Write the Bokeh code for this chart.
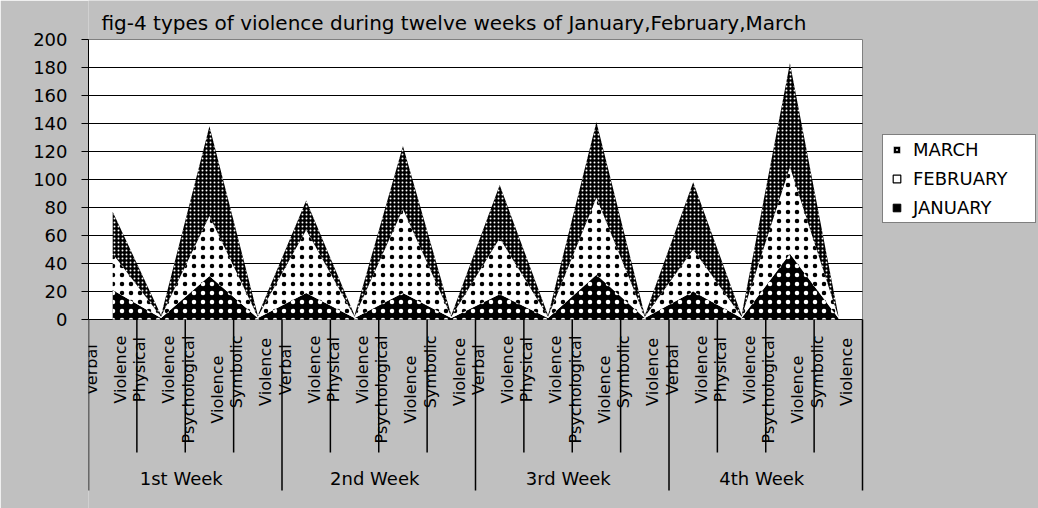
import math
from bokeh.plotting import figure
from bokeh.models import ColumnDataSource, Range1d, FixedTicker, Legend, LegendItem
from bokeh.embed import file_html
from bokeh.resources import INLINE
from bokeh.core.properties import value

# ---------------- data ----------------
weeks = ["1st Week", "2nd Week", "3rd Week", "4th Week"]
violence_types = [("Verbal", "Violence"), ("Physical", "Violence"),
                  ("Psychological", "Violence"), ("Symbolic", "Violence")]
january = [21, 1, 31, 1, 19, 1, 19, 1, 18, 1, 32, 1, 20, 1, 47, 1]
february = [26, 1, 43, 1, 45, 1, 60, 1, 40, 1, 55, 1, 30, 1, 62, 1]
march = [30, 1, 64, 1, 21, 1, 45, 1, 38, 1, 54, 1, 48, 1, 74, 1]
y_ticks = [0, 20, 40, 60, 80, 100, 120, 140, 160, 180, 200]
series_labels = ["JANUARY", "FEBRUARY", "MARCH"]
title_text = "fig-4 types of violence during twelve weeks of January,February,March"

# ---------------- layout constants ----------------
GRAY = "#c0c0c0"
FONT = "DejaVu Sans"
PX_X = 48.375   # pixels per category
PX_Y = 1.4      # pixels per value unit
n_cat = len(january)
y_top = y_ticks[-1]

p = figure(width=1038, height=508, output_backend="svg", toolbar_location=None,
           x_range=Range1d(0, n_cat + 176 / PX_X),
           y_range=Range1d(-189 / PX_Y, y_top + 39 / PX_Y),
           x_axis_location=None,
           min_border_left=88, min_border_right=0, min_border_top=0, min_border_bottom=0)
p.background_fill_color = GRAY
p.border_fill_color = GRAY
p.outline_line_color = None
p.xgrid.visible = False

# white plot area
p.quad(left=[0], right=[n_cat], bottom=[0], top=[y_top], fill_color="white",
       line_color="#808080", line_width=1, level="image")

# horizontal gridlines
p.ygrid.ticker = FixedTicker(ticks=y_ticks[:-1])
p.ygrid.grid_line_color = "black"
p.ygrid.grid_line_width = 1
try:
    p.ygrid.cross_bounds = (0, n_cat)
except Exception:
    pass

# y axis
p.yaxis.ticker = FixedTicker(ticks=y_ticks)
p.yaxis.bounds = (0, y_top)
p.yaxis.axis_line_color = "black"
p.yaxis.major_tick_line_color = "black"
p.yaxis.major_tick_out = 7
p.yaxis.major_tick_in = 0
p.yaxis.minor_tick_line_color = None
p.yaxis.major_label_text_font = FONT
p.yaxis.major_label_text_font_size = "18px"
p.yaxis.major_label_text_color = "black"
p.yaxis.major_label_standoff = 14

# stacked areas
source = ColumnDataSource(dict(x=[i + 0.5 for i in range(n_cat)],
                               january=january, february=february, march=march))
rs = p.varea_stack(stackers=["january", "february", "march"], x="x", source=source,
                   fill_color=["black", "white", "black"],
                   hatch_pattern=[".", ".", "."],
                   hatch_color=["white", "black", "white"],
                   hatch_scale=[9, 9, 4],
                   hatch_weight=[0.5, 0.5, 0.8])

# category tick lines (below the axis)
tick_x = list(range(n_cat + 1))
tick_bottom = [(-171 if k % 4 == 0 else -133) / PX_Y for k in tick_x]
p.segment(x0=tick_x, y0=[0] * len(tick_x), x1=tick_x, y1=tick_bottom,
          line_color="black", line_width=1.5)

# rotated two-line category labels
W = {'V': .684, 'e': .615, 'r': .411, 'b': .635, 'a': .613, 'l': .278, 'i': .278,
     'o': .612, 'n': .634, 'c': .550, 'P': .603, 'h': .634, 'y': .592, 's': .521,
     'g': .635, 'S': .635, 'm': .974}
LBL_SIZE = 16
def tw(s):
    return sum(W.get(c, .6) for c in s) * LBL_SIZE

lx, ly, lt = [], [], []
for k in range(n_cat):
    l1, l2 = violence_types[k % 4]
    L = max(tw(l1), tw(l2))
    yc = -(16 + L / 2) / PX_Y
    lx += [k + 3 / PX_X, k + 32 / PX_X]
    ly += [yc, yc]
    lt += [l1, l2]
p.text(x=lx, y=ly, text=lt, angle=math.pi / 2, text_align="center",
       text_baseline="middle", text_font=value(FONT), text_font_size=f"{LBL_SIZE}px",
       text_color="black")

# week labels
p.text(x=[4 * w + 2 - 4 / PX_X for w in range(len(weeks))],
       y=[-159 / PX_Y] * len(weeks), text=weeks, text_align="center",
       text_baseline="middle", text_font=value(FONT), text_font_size="18px",
       text_color="black")

# title
p.text(x=[(453.5 - 88) / PX_X], y=[y_top + 17 / PX_Y], text=[title_text],
       text_align="center", text_baseline="middle", text_font=value(FONT),
       text_font_size="20px", text_color="black")

# legend (square proxies; their single point is NaN so nothing is drawn in the plot)
nan = float("nan")
proxy = ColumnDataSource(dict(x=[nan], y=[nan]))
r_mar = p.scatter(x="x", y="y", source=proxy, marker="square_dot", size=10,
                  fill_color="black", line_color="white", line_width=1)
r_feb = p.scatter(x="x", y="y", source=proxy, marker="square", size=9,
                  fill_color="white", line_color="black", line_width=1.2)
r_jan = p.scatter(x="x", y="y", source=proxy, marker="square", size=9,
                  fill_color="black", line_color="black", line_width=1)
legend = Legend(items=[LegendItem(label=series_labels[2], renderers=[r_mar]),
                       LegendItem(label=series_labels[1], renderers=[r_feb]),
                       LegendItem(label=series_labels[0], renderers=[r_jan])],
                location=(794, 285))
legend.border_line_color = "black"
legend.border_line_width = 1.5
legend.background_fill_color = "white"
legend.background_fill_alpha = 1
legend.label_text_font = FONT
legend.label_text_font_size = "18px"
legend.label_text_color = "black"
legend.glyph_width = 19
legend.glyph_height = 19
legend.padding = 4
legend.spacing = 8
legend.label_height = 21
legend.label_standoff = 7
legend.label_width = 118
legend.margin = 0
p.add_layout(legend)

open("out.html", "w").write(file_html(p, INLINE))
